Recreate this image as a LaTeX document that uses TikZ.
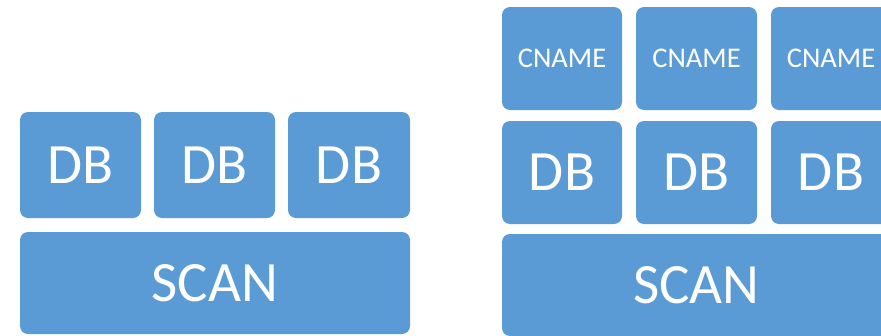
\documentclass[tikz,border=0pt]{standalone}
\usepackage{fontspec}
\setmainfont{Carlito}
\definecolor{tileblue}{HTML}{5B9BD5}
\tikzset{
  tile/.style={fill=tileblue, draw=none, rounded corners=8pt, inner sep=0pt,
    text=white, align=center},
  bigtext/.style={font=\fontsize{57}{62}\selectfont},
  smalltext/.style={font=\fontsize{28.5}{32}\selectfont},
}
\begin{document}
\begin{tikzpicture}[x=1pt,y=-1pt]
  \useasboundingbox (0,0) rectangle (881,335);
  \clip (0,0) rectangle (881,335);
  % left stack: three DB tiles on a SCAN base
  \node[tile, bigtext, minimum width=121pt, minimum height=106pt] (ldb1) at (80.5,165) {DB};
  \node[tile, bigtext, minimum width=121pt, minimum height=106pt] (ldb2) at (214.5,165) {DB};
  \node[tile, bigtext, minimum width=122pt, minimum height=106pt] (ldb3) at (349,165) {DB};
  \node[tile, bigtext, minimum width=390pt, minimum height=102pt] (lscan) at (215,283) {SCAN};
  % right stack: CNAME tiles above DB tiles on a SCAN base
  \node[tile, smalltext, minimum width=120pt, minimum height=103pt] (cn1) at (562,58.5) {CNAME};
  \node[tile, smalltext, minimum width=121pt, minimum height=103pt] (cn2) at (696.5,58.5) {CNAME};
  \node[tile, smalltext, minimum width=120pt, minimum height=103pt] (cn3) at (831,58.5) {CNAME};
  \node[tile, bigtext, minimum width=120pt, minimum height=103pt] (rdb1) at (562,172.5) {DB};
  \node[tile, bigtext, minimum width=121pt, minimum height=103pt] (rdb2) at (696.5,172.5) {DB};
  \node[tile, bigtext, minimum width=120pt, minimum height=103pt] (rdb3) at (831,172.5) {DB};
  \node[tile, bigtext, minimum width=389pt, minimum height=102pt] (rscan) at (696.5,285) {SCAN};
\end{tikzpicture}
\end{document}
